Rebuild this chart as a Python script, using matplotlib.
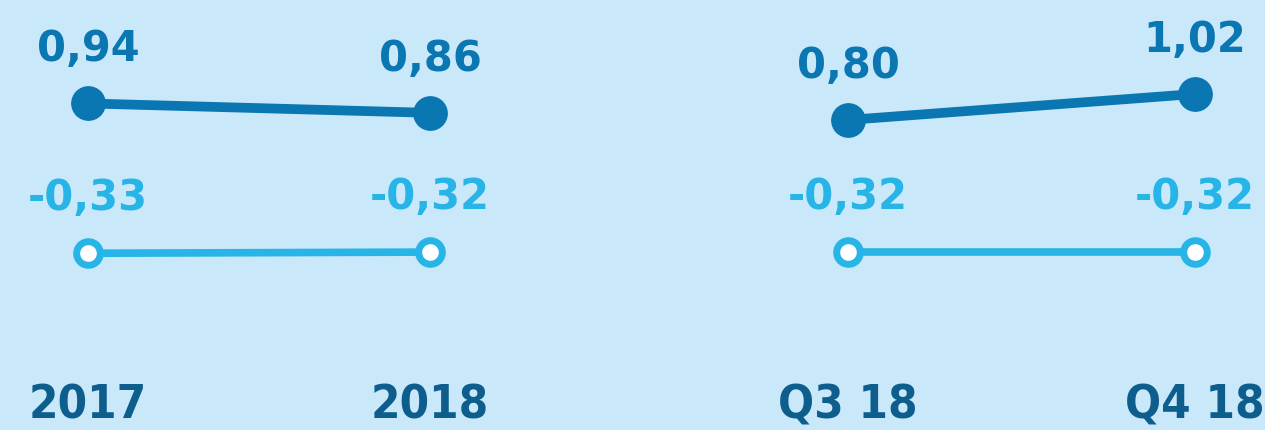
import matplotlib.pyplot as plt

# data
years = ['2017', '2018']
quarters = ['Q3 18', 'Q4 18']
dark_years = [0.94, 0.86]
light_years = [-0.33, -0.32]
dark_quarters = [0.80, 1.02]
light_quarters = [-0.32, -0.32]

bg = '#c9e8fa'
dark = '#0a76b2'
light = '#27b4e6'
tick_col = '#0d5e8d'

fig = plt.figure(figsize=(12.65, 4.31), dpi=100)
fig.patch.set_facecolor(bg)

ax1 = fig.add_axes([0.0, 0.1415, 0.5, 0.8585])
ax2 = fig.add_axes([0.5, 0.1415, 0.5, 0.8585])


def fmt(v):
    return f'{v:.2f}'.replace('.', ',')


def panel(ax, cats, dvals, lvals, xlim):
    x = list(range(len(cats)))
    ax.set_facecolor(bg)
    ax.plot(x, dvals, color=dark, lw=7, marker='o', ms=24,
            mfc=dark, mec=dark, solid_capstyle='round')
    ax.plot(x, lvals, color=light, lw=5.5, marker='o', ms=17,
            mfc='white', mec=light, mew=5)
    for xi, v in zip(x, dvals):
        ax.annotate(fmt(v), (xi, v), xytext=(0, 31), textcoords='offset points',
                    ha='center', va='baseline', fontsize=30, fontweight='bold',
                    color=dark)
    for xi, v in zip(x, lvals):
        ax.annotate(fmt(v), (xi, v), xytext=(0, 32), textcoords='offset points',
                    ha='center', va='baseline', fontsize=30, fontweight='bold',
                    color=light)
    ax.set_xlim(*xlim)
    ax.set_ylim(-1.311, 1.825)
    ax.set_xticks(x)
    ax.set_xticklabels(cats, fontsize=34, fontweight='bold', color=tick_col,
                       fontstretch='condensed')
    ax.tick_params(axis='x', length=0, pad=10)
    ax.set_yticks([])
    for s in ax.spines.values():
        s.set_visible(False)


panel(ax1, years, dark_years, light_years, (-0.257, 1.591))
panel(ax2, quarters, dark_quarters, light_quarters, (-0.622, 1.202))

plt.savefig('out.png', dpi=100, facecolor=bg)
